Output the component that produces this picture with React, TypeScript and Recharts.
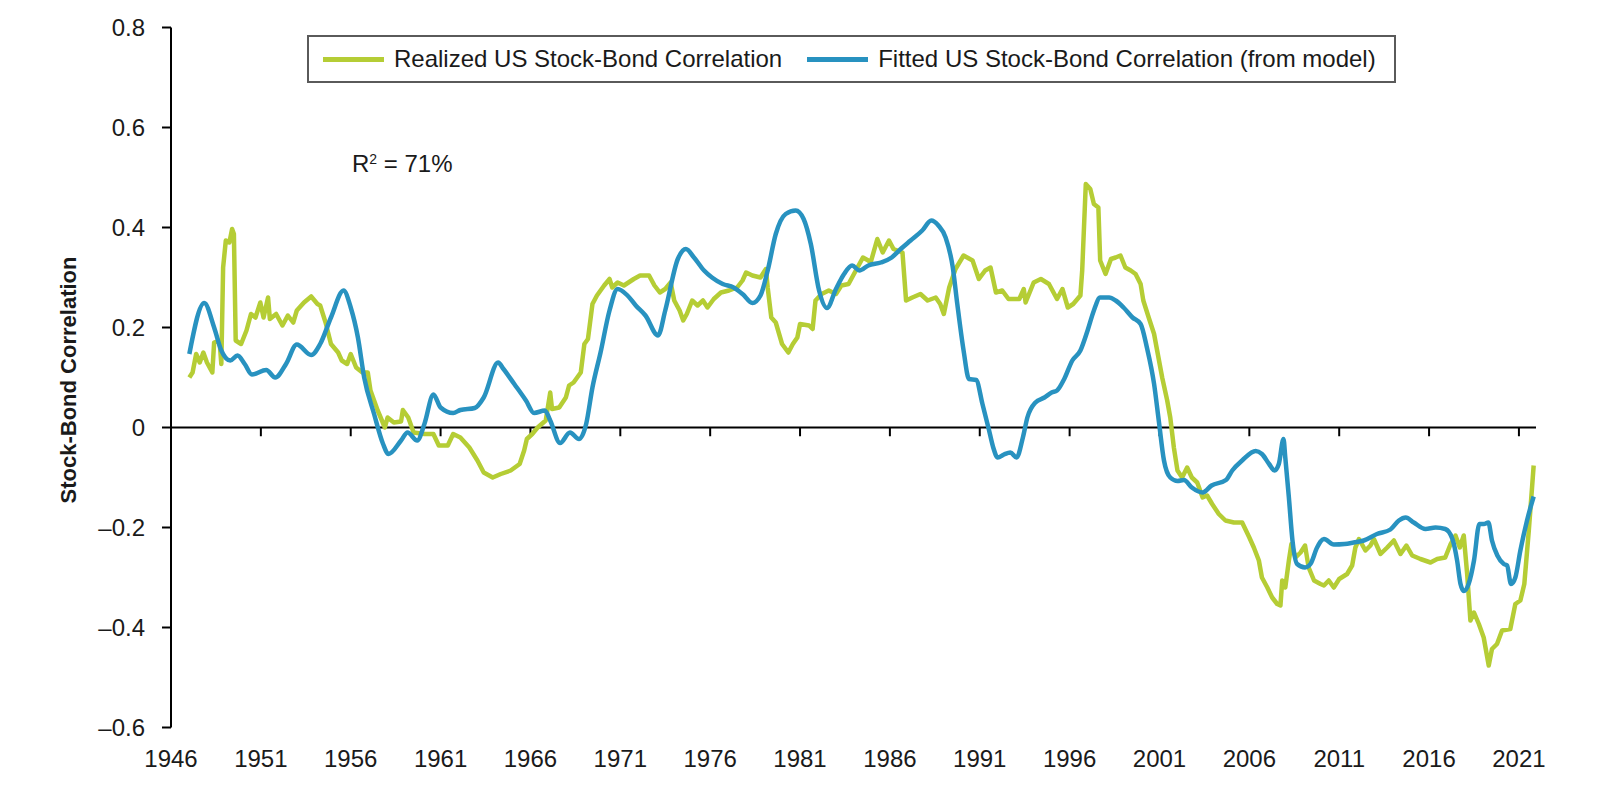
import { Line, LineChart, ReferenceLine, XAxis, YAxis } from "recharts";

const FONT = "'Liberation Sans', Arial, sans-serif";
const GREEN = "#B5CD35";
const BLUE = "#2892C0";

const YEAR_TICKS = [
  1946, 1951, 1956, 1961, 1966, 1971, 1976, 1981, 1986, 1991, 1996, 2001, 2006, 2011, 2016, 2021
];
const VALUE_TICKS = [0.8, 0.6, 0.4, 0.2, 0, -0.2, -0.4, -0.6];

const REALIZED_NAME = "Realized US Stock-Bond Correlation";
const FITTED_NAME = "Fitted US Stock-Bond Correlation (from model)";

// [year, correlation]
const REALIZED: [number, number][] = [
  [1947.02, 0.1], [1947.2, 0.11], [1947.4, 0.147], [1947.6, 0.13], [1947.8, 0.15],
  [1948.0, 0.13], [1948.3, 0.11], [1948.4, 0.17], [1948.7, 0.174], [1948.8, 0.127],
  [1948.9, 0.32], [1949.05, 0.374], [1949.25, 0.37], [1949.4, 0.397], [1949.5, 0.387],
  [1949.6, 0.174], [1949.9, 0.167], [1950.2, 0.194], [1950.45, 0.227], [1950.7, 0.22],
  [1950.97, 0.25], [1951.15, 0.22], [1951.4, 0.26], [1951.5, 0.217], [1951.85, 0.227],
  [1952.2, 0.204], [1952.5, 0.224], [1952.8, 0.21], [1953.0, 0.234], [1953.4, 0.25],
  [1953.8, 0.262], [1954.15, 0.247], [1954.3, 0.244], [1954.6, 0.21], [1954.9, 0.167],
  [1955.3, 0.15], [1955.5, 0.134], [1955.8, 0.127], [1956.0, 0.147], [1956.3, 0.12],
  [1956.65, 0.11], [1956.95, 0.11], [1957.1, 0.074], [1957.5, 0.034], [1957.9, 0.0],
  [1958.05, 0.02], [1958.4, 0.01], [1958.8, 0.012], [1958.9, 0.035], [1959.2, 0.02],
  [1959.5, -0.01], [1960.1, -0.013], [1960.6, -0.013], [1960.9, -0.036], [1961.4, -0.036],
  [1961.7, -0.013], [1962.1, -0.02], [1962.6, -0.04], [1963.05, -0.066], [1963.4, -0.09],
  [1963.9, -0.1], [1964.35, -0.093], [1964.9, -0.086], [1965.4, -0.073], [1965.65, -0.046],
  [1965.8, -0.023], [1966.1, -0.013], [1966.4, 0.0], [1966.85, 0.014], [1967.1, 0.07],
  [1967.2, 0.037], [1967.6, 0.04], [1967.97, 0.06], [1968.15, 0.084], [1968.4, 0.09],
  [1968.8, 0.11], [1969.0, 0.167], [1969.2, 0.177], [1969.45, 0.247], [1969.7, 0.264],
  [1970.1, 0.284], [1970.4, 0.297], [1970.55, 0.28], [1970.85, 0.29], [1971.2, 0.284],
  [1971.75, 0.297], [1972.1, 0.304], [1972.6, 0.304], [1972.9, 0.284], [1973.2, 0.27],
  [1973.5, 0.277], [1973.8, 0.29], [1974.0, 0.254], [1974.3, 0.234], [1974.5, 0.214],
  [1974.7, 0.227], [1975.0, 0.254], [1975.3, 0.244], [1975.6, 0.254], [1975.85, 0.24],
  [1976.2, 0.257], [1976.6, 0.27], [1977.05, 0.274], [1977.5, 0.28], [1977.8, 0.294],
  [1978.0, 0.31], [1978.35, 0.304], [1978.8, 0.3], [1979.1, 0.317], [1979.2, 0.28],
  [1979.4, 0.22], [1979.65, 0.21], [1980.0, 0.167], [1980.35, 0.15], [1980.6, 0.167],
  [1980.85, 0.18], [1981.0, 0.207], [1981.5, 0.204], [1981.7, 0.197], [1981.86, 0.254],
  [1982.2, 0.267], [1982.6, 0.274], [1983.0, 0.267], [1983.3, 0.284], [1983.7, 0.287],
  [1984.0, 0.307], [1984.5, 0.34], [1984.8, 0.334], [1984.93, 0.33], [1985.3, 0.377],
  [1985.6, 0.35], [1985.95, 0.374], [1986.2, 0.357], [1986.7, 0.35], [1986.9, 0.254],
  [1987.25, 0.26], [1987.7, 0.267], [1988.1, 0.254], [1988.55, 0.26], [1988.8, 0.247],
  [1989.0, 0.227], [1989.3, 0.28], [1989.65, 0.317], [1990.1, 0.344], [1990.6, 0.334],
  [1990.95, 0.297], [1991.3, 0.314], [1991.6, 0.32], [1991.9, 0.27], [1992.25, 0.274],
  [1992.6, 0.257], [1993.2, 0.257], [1993.45, 0.277], [1993.55, 0.25], [1994.0, 0.29],
  [1994.4, 0.297], [1994.85, 0.287], [1995.3, 0.257], [1995.6, 0.277], [1995.9, 0.24],
  [1996.2, 0.247], [1996.6, 0.264], [1996.7, 0.314], [1996.9, 0.487], [1997.15, 0.477],
  [1997.35, 0.447], [1997.6, 0.44], [1997.7, 0.334], [1998.0, 0.307], [1998.3, 0.337],
  [1998.56, 0.34], [1998.83, 0.344], [1999.1, 0.32], [1999.4, 0.314], [1999.67, 0.307],
  [1999.95, 0.287], [2000.1, 0.254], [2000.4, 0.22], [2000.7, 0.187], [2000.87, 0.154],
  [2001.15, 0.1], [2001.43, 0.054], [2001.6, 0.02], [2001.8, -0.04], [2002.0, -0.086],
  [2002.26, -0.1], [2002.54, -0.08], [2002.8, -0.1], [2003.1, -0.11], [2003.4, -0.14],
  [2003.65, -0.136], [2003.93, -0.153], [2004.3, -0.173], [2004.67, -0.186], [2005.14, -0.19],
  [2005.6, -0.19], [2006.0, -0.22], [2006.25, -0.24], [2006.53, -0.266], [2006.7, -0.3],
  [2007.0, -0.32], [2007.27, -0.34], [2007.55, -0.353], [2007.73, -0.356], [2007.83, -0.306],
  [2008.0, -0.32], [2008.2, -0.266], [2008.34, -0.233], [2008.57, -0.26], [2008.85, -0.25],
  [2009.1, -0.236], [2009.3, -0.28], [2009.6, -0.306], [2009.96, -0.313], [2010.15, -0.316],
  [2010.42, -0.306], [2010.7, -0.32], [2011.0, -0.303], [2011.44, -0.293], [2011.72, -0.276],
  [2011.9, -0.24], [2012.1, -0.223], [2012.46, -0.246], [2012.74, -0.236], [2012.93, -0.223],
  [2013.3, -0.253], [2013.67, -0.24], [2014.04, -0.226], [2014.41, -0.253], [2014.74, -0.236],
  [2015.06, -0.256], [2015.52, -0.263], [2016.08, -0.27], [2016.45, -0.263], [2016.9, -0.26],
  [2017.2, -0.233], [2017.47, -0.216], [2017.71, -0.24], [2017.93, -0.216], [2018.12, -0.293],
  [2018.3, -0.386], [2018.5, -0.37], [2018.77, -0.393], [2019.04, -0.42], [2019.32, -0.476],
  [2019.5, -0.443], [2019.78, -0.433], [2020.06, -0.406], [2020.52, -0.403], [2020.8, -0.353],
  [2021.08, -0.346], [2021.3, -0.313], [2021.55, -0.206], [2021.73, -0.12], [2021.82, -0.076]
];

const FITTED: [number, number][] = [
  [1947.02, 0.147], [1947.85, 0.249], [1948.4, 0.2], [1948.8, 0.154], [1949.3, 0.134],
  [1949.7, 0.144], [1950.1, 0.127], [1950.5, 0.106], [1951.3, 0.115], [1951.8, 0.1],
  [1952.4, 0.127], [1953.0, 0.166], [1953.8, 0.145], [1954.3, 0.167], [1954.9, 0.22],
  [1955.6, 0.274], [1956.0, 0.24], [1956.4, 0.18], [1956.75, 0.1], [1957.3, 0.027],
  [1957.8, -0.033], [1958.1, -0.053], [1958.8, -0.026], [1959.16, -0.01], [1959.7, -0.026],
  [1960.1, 0.007], [1960.6, 0.066], [1961.0, 0.04], [1961.7, 0.029], [1962.1, 0.035],
  [1962.9, 0.039], [1963.4, 0.06], [1964.2, 0.13], [1964.5, 0.117], [1965.1, 0.087],
  [1965.75, 0.054], [1966.2, 0.029], [1966.8, 0.034], [1967.1, 0.014], [1967.65, -0.031],
  [1968.2, -0.01], [1968.7, -0.023], [1969.1, 0.007], [1969.45, 0.08], [1969.9, 0.15],
  [1970.4, 0.234], [1970.85, 0.277], [1971.4, 0.264], [1971.86, 0.244], [1972.4, 0.224],
  [1973.1, 0.184], [1973.5, 0.234], [1974.2, 0.337], [1974.65, 0.357], [1975.1, 0.34],
  [1975.66, 0.314], [1976.1, 0.3], [1976.7, 0.287], [1977.3, 0.28], [1977.8, 0.267],
  [1978.35, 0.249], [1978.8, 0.264], [1979.2, 0.314], [1979.65, 0.387], [1980.2, 0.427],
  [1980.76, 0.434], [1981.2, 0.417], [1981.6, 0.367], [1982.06, 0.274], [1982.5, 0.239],
  [1983.0, 0.277], [1983.45, 0.307], [1983.9, 0.324], [1984.3, 0.314], [1984.8, 0.324],
  [1985.5, 0.33], [1986.1, 0.34], [1986.6, 0.357], [1987.15, 0.374], [1987.8, 0.394],
  [1988.3, 0.414], [1988.7, 0.404], [1989.1, 0.38], [1989.5, 0.32], [1989.75, 0.247],
  [1990.1, 0.154], [1990.4, 0.097], [1990.8, 0.095], [1991.15, 0.047], [1991.5, -0.003],
  [1991.75, -0.04], [1992.0, -0.06], [1992.35, -0.054], [1992.7, -0.05], [1993.05, -0.06],
  [1993.4, -0.02], [1993.65, 0.02], [1994.1, 0.05], [1994.6, 0.06], [1995.0, 0.07],
  [1995.3, 0.074], [1995.7, 0.097], [1996.15, 0.134], [1996.6, 0.154], [1997.0, 0.194],
  [1997.35, 0.234], [1997.7, 0.26], [1998.2, 0.26], [1998.56, 0.254], [1999.0, 0.24],
  [1999.5, 0.22], [1999.95, 0.207], [2000.3, 0.16], [2000.7, 0.087], [2000.97, 0.011],
  [2001.25, -0.066], [2001.6, -0.1], [2002.0, -0.107], [2002.36, -0.105], [2002.8, -0.12],
  [2003.4, -0.13], [2003.9, -0.116], [2004.7, -0.105], [2005.05, -0.086], [2005.6, -0.066],
  [2006.35, -0.047], [2006.7, -0.053], [2007.1, -0.073], [2007.4, -0.086], [2007.64, -0.073],
  [2007.9, -0.023], [2008.0, -0.06], [2008.2, -0.14], [2008.4, -0.226], [2008.66, -0.273],
  [2009.1, -0.28], [2009.4, -0.273], [2009.77, -0.24], [2010.15, -0.223], [2010.7, -0.234],
  [2011.3, -0.233], [2011.8, -0.23], [2012.37, -0.226], [2013.1, -0.213], [2013.85, -0.204],
  [2014.32, -0.186], [2014.7, -0.18], [2015.15, -0.19], [2015.8, -0.203], [2016.36, -0.2],
  [2016.9, -0.203], [2017.3, -0.223], [2017.56, -0.266], [2017.75, -0.313], [2017.93, -0.327],
  [2018.2, -0.313], [2018.5, -0.266], [2018.8, -0.193], [2019.05, -0.193], [2019.3, -0.19],
  [2019.5, -0.226], [2019.8, -0.256], [2020.16, -0.273], [2020.34, -0.276], [2020.56, -0.313],
  [2020.8, -0.3], [2021.08, -0.246], [2021.45, -0.186], [2021.82, -0.138]
];

const LEGEND_ITEMS = [
  { name: REALIZED_NAME, color: GREEN },
  { name: FITTED_NAME, color: BLUE }
];

const toPoints = (rows: [number, number][]) => rows.map(([year, value]) => ({ year, value }));

const formatValue = (v: number) => {
  if (v === 0) return "0";
  const s = Math.abs(v).toFixed(1);
  return v < 0 ? `\u2013${s}` : s;
};

function LegendBox() {
  return (
    <div
      style={{
        position: "absolute",
        left: 307,
        top: 35,
        width: 1089,
        height: 48,
        boxSizing: "border-box",
        border: "2px solid #5a5a5a",
        display: "flex",
        alignItems: "center",
        paddingLeft: 14,
        gap: 25,
        fontFamily: FONT,
        fontSize: 24,
        color: "#1a1a1a",
        background: "#fff"
      }}
    >
      {LEGEND_ITEMS.map((item) => (
        <div key={item.name} style={{ display: "flex", alignItems: "center" }}>
          <span
            style={{ display: "inline-block", width: 61, height: 5, background: item.color, marginRight: 10 }}
          />
          <span>{item.name}</span>
        </div>
      ))}
    </div>
  );
}

export default function App() {
  return (
    <div style={{ position: "absolute", left: 0, top: 0, width: 1600, height: 798, background: "#fff" }}>
      <LineChart
        width={1600}
        height={798}
        margin={{ top: 27.5, right: 64, bottom: 30.5, left: 0 }}
        style={{ fontFamily: FONT }}
      >
        <XAxis
          type="number"
          dataKey="year"
          domain={[1946, 2021.95]}
          ticks={YEAR_TICKS}
          allowDataOverflow
          height={40}
          axisLine={false}
          tickLine={false}
          tickSize={0}
          tickMargin={22}
          tick={{ fill: "#1a1a1a", fontSize: 24 }}
          interval={0}
        />
        <YAxis
          type="number"
          domain={[-0.6, 0.8]}
          ticks={VALUE_TICKS}
          width={171}
          interval={0}
          axisLine={{ stroke: "#000", strokeWidth: 2 }}
          tickLine={{ stroke: "#000", strokeWidth: 2 }}
          tickSize={9}
          tickMargin={17}
          tickFormatter={formatValue}
          tick={{ fill: "#1a1a1a", fontSize: 24 }}
          label={() => (
            <text
              x={68}
              y={380}
              transform="rotate(-90, 68, 380)"
              textAnchor="middle"
              dominantBaseline="central"
              fontSize={22}
              fontWeight={700}
              fill="#1a1a1a"
            >
              Stock-Bond Correlation
            </text>
          )}
        />
        <ReferenceLine y={0} stroke="#000" strokeWidth={2} />
        {YEAR_TICKS.slice(1).map((t) => (
          <ReferenceLine
            key={t}
            segment={[
              { x: t, y: 0 },
              { x: t, y: -0.0175 }
            ]}
            stroke="#000"
            strokeWidth={2}
          />
        ))}
        <Line
          name={REALIZED_NAME}
          data={toPoints(REALIZED)}
          dataKey="value"
          type="linear"
          stroke={GREEN}
          strokeWidth={4.5}
          strokeLinejoin="round"
          dot={false}
          activeDot={false}
          isAnimationActive={false}
        />
        <Line
          name={FITTED_NAME}
          data={toPoints(FITTED)}
          dataKey="value"
          type="monotone"
          stroke={BLUE}
          strokeWidth={4.5}
          dot={false}
          activeDot={false}
          isAnimationActive={false}
        />
      </LineChart>
      <LegendBox />
      <div
        style={{
          position: "absolute",
          left: 352,
          top: 147,
          fontFamily: FONT,
          fontSize: 24,
          lineHeight: "24px",
          color: "#1a1a1a"
        }}
      >
        R<span style={{ fontSize: 14, verticalAlign: "8px" }}>2</span> = 71%
      </div>
    </div>
  );
}
